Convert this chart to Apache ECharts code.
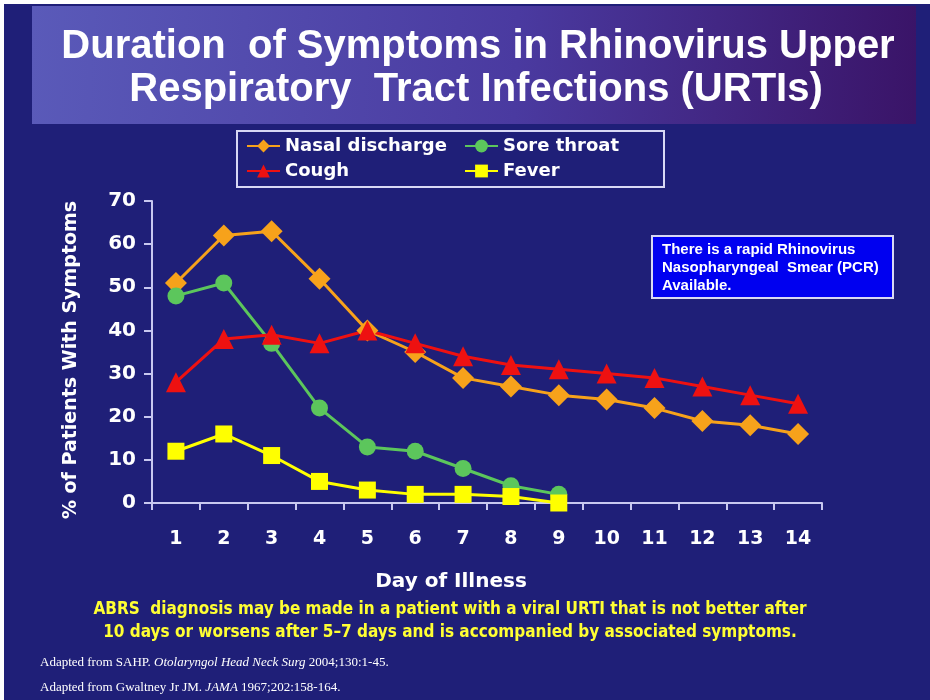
<!DOCTYPE html>
<html><head><meta charset="utf-8">
<script src="https://cdn.jsdelivr.net/npm/echarts@6/dist/echarts.min.js"></script>
<style>html,body{margin:0;padding:0;background:#fff}#c{width:930px;height:700px}</style>
</head><body><div id="c"></div>
<script>
const days = ['1','2','3','4','5','6','7','8','9','10','11','12','13','14'];
const nasalDischarge = [51, 62, 63, 52, 40, 35, 29, 27, 25, 24, 22, 19, 18, 16];
const soreThroat = [48, 51, 37, 22, 13, 12, 8, 4, 2];
const cough = [28, 38, 39, 37, 40, 37, 34, 32, 31, 30, 29, 27, 25, 23];
const fever = [12, 16, 11, 5, 3, 2, 2, 1.5, 0];
const yTicks = [0, 10, 20, 30, 40, 50, 60, 70];

const chart = echarts.init(document.getElementById('c'), null, {renderer: 'canvas'});
const axisCol = '#c8c8f0';
const bodyFont = 'DejaVu Sans';
function mk(name, data, color, symbol, size) {
  return {
    name, type: 'line', data, symbol, symbolSize: size,
    lineStyle: {color, width: 3}, itemStyle: {color},
    z: 3
  };
}
chart.setOption({
  backgroundColor: '#ffffff',
  animation: false,
  graphic: [
    {type: 'rect', shape: {x: 4, y: 4, width: 930, height: 700}, style: {fill: '#1f1f78'}, z: -10},
    {type: 'rect', shape: {x: 32, y: 6, width: 884, height: 118},
     style: {fill: new echarts.graphic.LinearGradient(0, 0, 1, 0.3, [
       {offset: 0, color: '#5a5ab9'}, {offset: 0.55, color: '#4a3aa0'}, {offset: 1, color: '#3a1468'}])}, z: -9},
    {type: 'text', x: 478, y: 27, style: {text: 'Duration  of Symptoms in Rhinovirus Upper', fill: '#ffffff', font: 'bold 40px "Liberation Sans"', textAlign: 'center'}},
    {type: 'text', x: 476, y: 70, style: {text: 'Respiratory  Tract Infections (URTIs)', fill: '#ffffff', font: 'bold 40px "Liberation Sans"', textAlign: 'center'}},
    {type: 'rect', shape: {x: 237, y: 131, width: 427, height: 56}, style: {fill: 'none', stroke: '#d8d8f4', lineWidth: 2}},
    {type: 'rect', shape: {x: 652, y: 236, width: 241, height: 62}, style: {fill: '#0000f0', stroke: '#d8d8f4', lineWidth: 2}},
    {type: 'text', x: 662, y: 241, style: {text: 'There is a rapid Rhinovirus\nNasopharyngeal  Smear (PCR)\nAvailable.', fill: '#ffffff', font: 'bold 15px "Liberation Sans"', lineHeight: 18}},
    {type: 'text', x: 71, y: 360, rotation: Math.PI / 2, style: {text: '% of Patients With Symptoms', fill: '#ffffff', font: 'bold 19px "DejaVu Sans"', textAlign: 'center', textVerticalAlign: 'middle'}},
    {type: 'text', x: 451, y: 572, style: {text: 'Day of Illness', fill: '#ffffff', font: 'bold 20px "DejaVu Sans"', textAlign: 'center'}},
    {type: 'text', x: 450, y: 598, style: {text: 'ABRS  diagnosis may be made in a patient with a viral URTI that is not better after\n10 days or worsens after 5–7 days and is accompanied by associated symptoms.', fill: '#ffff33', font: 'bold 17px "DejaVu Sans Condensed"', lineHeight: 23, textAlign: 'center'}},
    {type: 'text', x: 40, y: 650, style: {
      text: 'Adapted from SAHP. {i|Otolaryngol Head Neck Surg} 2004;130:1-45.\nAdapted from Gwaltney Jr JM. {i|JAMA} 1967;202:158-164.',
      fill: '#ffffff', font: '13px "Liberation Serif"', lineHeight: 25,
      rich: {i: {fontStyle: 'italic', fontFamily: 'Liberation Serif', fontSize: 13, fill: '#ffffff', color: '#ffffff'}}}}
  ],
  legend: [
    {orient: 'vertical', left: 241, top: 132, itemGap: 7, itemWidth: 33, itemHeight: 16,
     data: ['Nasal discharge', 'Cough'],
     textStyle: {color: '#ffffff', fontWeight: 'bold', fontSize: 18, fontFamily: bodyFont}},
    {orient: 'vertical', left: 459, top: 132, itemGap: 7, itemWidth: 33, itemHeight: 16,
     data: ['Sore throat', 'Fever'],
     textStyle: {color: '#ffffff', fontWeight: 'bold', fontSize: 18, fontFamily: bodyFont}}
  ],
  grid: {left: 152, right: 108, top: 201, bottom: 197},
  xAxis: {
    type: 'category', data: days, boundaryGap: true,
    axisLine: {lineStyle: {color: axisCol, width: 2}},
    axisTick: {show: true, length: 7, lineStyle: {color: axisCol, width: 2}},
    axisLabel: {color: '#ffffff', fontWeight: 'bold', fontSize: 19, fontFamily: bodyFont, margin: 27}
  },
  yAxis: {
    type: 'value', min: 0, max: 70, interval: 10,
    axisLine: {show: true, lineStyle: {color: axisCol, width: 2}},
    axisTick: {show: true, length: 8, lineStyle: {color: axisCol, width: 2}},
    splitLine: {show: false},
    axisLabel: {color: '#ffffff', fontWeight: 'bold', fontSize: 20, fontFamily: bodyFont, margin: 16,
      formatter: v => yTicks.includes(v) ? String(v) : ''}
  },
  series: [
    mk('Nasal discharge', nasalDischarge, '#f7a21b', 'diamond', 22),
    mk('Sore throat', soreThroat, '#5cc65c', 'circle', 17),
    mk('Cough', cough, '#ee1111', 'triangle', 20),
    mk('Fever', fever, '#ffff00', 'rect', 17)
  ]
});
</script></body></html>
